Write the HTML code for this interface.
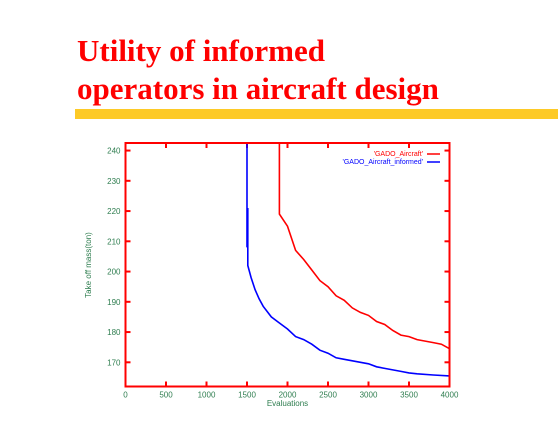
<!DOCTYPE html>
<html><head><meta charset="utf-8"><style>
body{margin:0;width:558px;height:431px;background:#fff;overflow:hidden;position:relative}
.t{position:absolute;left:77px;font-family:"Liberation Serif",serif;font-weight:bold;color:#ff0000;font-size:31px;line-height:38px;white-space:nowrap}
</style></head><body>
<div class="t" style="top:32px">Utility of informed<br>operators in aircraft design</div>
<div style="position:absolute;left:75px;top:109px;width:483px;height:10px;background:#fdca27"></div>
<svg id="c" width="558" height="431" style="position:absolute;left:0;top:0"></svg>
<script>
const xTicks=[0,500,1000,1500,2000,2500,3000,3500,4000];
const yTicks=[170,180,190,200,210,220,230,240];
const yTickLabels=["170","180","190","200","210","220","230","240"];
const redX=[1900,1900,2000,2100,2200,2300,2400,2500,2600,2700,2800,2900,3000,3100,3200,3300,3400,3500,3600,3700,3800,3900,4000];
const redY=[242.5,219,215,207,204,200.5,197,195,192,190.5,188,186.5,185.5,183.5,182.5,180.5,179,178.5,177.5,177,176.5,176,174.5];
const blueX=[1500,1500,1510,1510,1550,1600,1650,1700,1800,1900,2000,2100,2200,2300,2400,2500,2600,2700,2800,2900,3000,3100,3200,3300,3400,3500,3600,3800,4000];
const blueY=[242.5,208,221,202,198,194,191,188.5,185,183,181,178.5,177.5,176,174,173,171.5,171,170.5,170,169.5,168.5,168,167.5,167,166.5,166.2,165.8,165.5];
const L=125.5,R=449.5,T=143,B=386.5,ymin=162,ymax=242.5;
const sx=v=>L+(v/4000)*(R-L), sy=v=>B-(v-ymin)/(ymax-ymin)*(B-T);
const svg=document.getElementById('c'),NS='http://www.w3.org/2000/svg';
function mk(tag,a,p){const e=document.createElementNS(NS,tag);for(const k in a)e.setAttribute(k,a[k]);(p||svg).appendChild(e);return e;}
const G='#2e7d4f',F='"Liberation Sans",sans-serif';
xTicks.forEach(v=>{
 const x=sx(v);
 const t=mk('line',{x1:x,x2:x,y1:B,y2:B-5,stroke:'#f00','stroke-width':2});
 
 
 mk('line',{x1:x,x2:x,y1:T,y2:T+5,stroke:'#f00','stroke-width':2});
 const l=mk('text',{x:x,y:B+11,'text-anchor':'middle',fill:G,'font-size':8,'font-family':F});
 l.textContent=v;
 
 
});
yTicks.forEach((v,i)=>{
 const y=sy(v);
 const t=mk('line',{x1:L,x2:L+5,y1:y,y2:y,stroke:'#f00','stroke-width':2});
 
 
 mk('line',{x1:R,x2:R-5,y1:y,y2:y,stroke:'#f00','stroke-width':2});
 const l=mk('text',{x:L-5,y:y+3,'text-anchor':'end',fill:G,'font-size':8,'font-family':F});
 l.textContent=yTickLabels[i];
 
 
});
function line(xs,ys,c,name){
 let d='';xs.forEach((x,i)=>{d+=(i?'L':'M')+sx(x).toFixed(1)+','+sy(ys[i]).toFixed(1);});
 const p=mk('path',{d:d,fill:'none',stroke:c,'stroke-width':1.6});
 
 
}
line(redX,redY,'#f00','series-gado-aircraft');
line(blueX,blueY,'#00f','series-gado-aircraft-informed');
const fr=mk('rect',{x:L,y:T,width:R-L,height:B-T,fill:'none',stroke:'#f00','stroke-width':2});


const l1=mk('text',{x:423,y:156,'text-anchor':'end',fill:'#f00','font-size':7,'font-family':F});
l1.textContent="'GADO_Aircraft'";


mk('line',{x1:427,x2:440,y1:154,y2:154,stroke:'#f00','stroke-width':1.5});
const l2=mk('text',{x:423,y:164,'text-anchor':'end',fill:'#00f','font-size':7,'font-family':F});
l2.textContent="'GADO_Aircraft_informed'";


mk('line',{x1:427,x2:440,y1:162,y2:162,stroke:'#00f','stroke-width':1.5});
const xt=mk('text',{x:sx(2000),y:406,'text-anchor':'middle',fill:G,'font-size':8,'font-family':F});
xt.textContent='Evaluations';


const yt=mk('text',{x:0,y:0,transform:'translate(91,265) rotate(-90)','text-anchor':'middle',fill:G,'font-size':8,'font-family':F});
yt.textContent='Take off mass(ton)';


</script>
</body></html>
